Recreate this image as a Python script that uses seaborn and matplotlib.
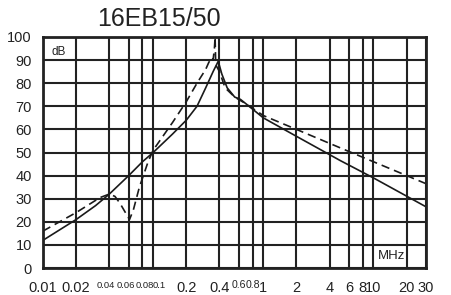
import numpy as np
import pandas as pd
import matplotlib
matplotlib.use("Agg")
import matplotlib.pyplot as plt
import matplotlib.transforms as mtransforms
import seaborn as sns

# insertion loss curves
freq_solid = [0.01, 0.02, 0.03, 0.04, 0.06, 0.08, 0.1, 0.15, 0.2, 0.25, 0.3, 0.35,
              0.39, 0.42, 0.47, 0.55, 0.62, 0.7, 1, 2, 5, 10, 30]
db_solid = [12, 21, 27, 32, 40, 46, 50, 58, 64, 70, 78, 85,
            89.5, 84, 78, 74, 73, 71, 65, 57, 46.5, 39, 26.5]

freq_dash = [0.01, 0.02, 0.033, 0.04, 0.045, 0.05, 0.056, 0.061, 0.066, 0.075, 0.09,
             0.1, 0.15, 0.2, 0.25, 0.3, 0.32, 0.34, 0.35, 0.36, 0.365, 0.37, 0.4,
             0.45, 0.55, 0.7, 1, 2, 5, 10, 30]
db_dash = [16, 24, 30.5, 32, 31, 28, 24, 21, 25, 35, 46,
           51, 63, 72, 80, 86, 89, 91, 90, 95, 100, 88, 85,
           78, 74, 71, 66, 60, 52, 46, 36.5]

xticks = [0.01, 0.02, 0.04, 0.06, 0.08, 0.1, 0.2, 0.4, 0.6, 0.8, 1, 2, 4, 6, 8, 10, 20, 30]
xlabels = ["0.01", "0.02", "0.04", "0.06", "0.08", "0.1", "0.2", "0.4", "0.6", "0.8", "1",
           "2", "4", "6", "8", "10", "20", "30"]
yticks = list(range(0, 101, 10))

sns.set_style("white")
plt.rcParams['font.family'] = ['Liberation Sans', 'DejaVu Sans']

solid = pd.DataFrame({"f": freq_solid, "db": db_solid})
dash = pd.DataFrame({"f": freq_dash, "db": db_dash})

fig = plt.figure(figsize=(4.51, 2.95), dpi=100)
ax = fig.add_axes([43 / 451, 1 - 268 / 295, (426 - 43) / 451, (268 - 37) / 295])

sns.lineplot(data=solid, x="f", y="db", ax=ax, color="#1a1a1a", lw=1.2, estimator=None, sort=False)
sns.lineplot(data=dash, x="f", y="db", ax=ax, color="#1a1a1a", lw=1.2, estimator=None, sort=False,
             linestyle=(0, (5, 3)))

ax.set_xscale("log")
ax.set_xlim(0.01, 30)
ax.set_ylim(0, 100)
ax.set_xticks(xticks)
ax.set_xticklabels(xlabels)
ax.minorticks_off()
ax.set_yticks(yticks)
ax.tick_params(length=0, labelsize=10.5, colors="#222222")
ax.tick_params(axis="x", pad=9)
ax.tick_params(axis="y", pad=8)

# crowded labels are squeezed (and nudged apart) like in the original
nudge = {"0.04": -4, "0.06": -3, "0.08": 2, "0.1": 6}
for lab in ax.get_xticklabels():
    t = lab.get_text()
    if t in nudge:
        lab.set_fontsize(6.8)
        lab.set_transform(lab.get_transform() +
                          mtransforms.ScaledTranslation(nudge[t] / 100, 0, fig.dpi_scale_trans))
    elif t in ("0.6", "0.8"):
        lab.set_fontsize(7.6)

ax.grid(True, color="#222222", lw=1.5)
for s in ax.spines.values():
    s.set_color("#222222")
    s.set_linewidth(2)
ax.set_xlabel("")
ax.set_ylabel("")

ax.text(0.022, 0.96, "dB", transform=ax.transAxes, fontsize=8.5, va="top", ha="left", color="#222222")
ax.text(0.945, 0.025, "MHz", transform=ax.transAxes, fontsize=9.5, va="bottom", ha="right", color="#222222")
fig.text(97 / 451, 1 - 19 / 295, "16EB15/50", fontsize=18, va="center", ha="left", color="#222222")

fig.savefig("out.png", dpi=100)
